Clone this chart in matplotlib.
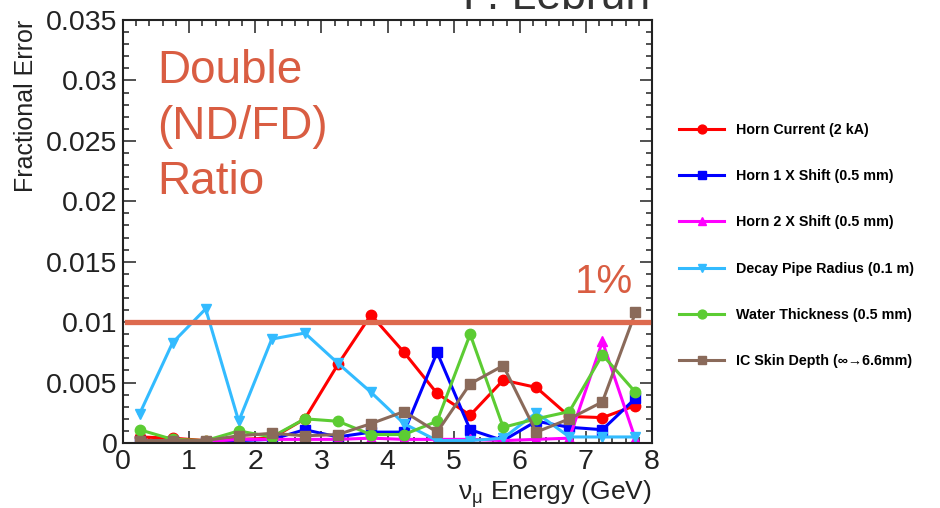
import numpy as np
import matplotlib
matplotlib.use("Agg")
import matplotlib.pyplot as plt
from matplotlib.ticker import MultipleLocator

plt.rcParams['font.family'] = ['Liberation Sans', 'DejaVu Sans']
plt.rcParams['mathtext.fontset'] = 'custom'
plt.rcParams['mathtext.rm'] = 'Liberation Sans'
plt.rcParams['mathtext.it'] = 'Liberation Sans'

# bin centres (GeV)
energy = [0.25, 0.75, 1.25, 1.75, 2.25, 2.75, 3.25, 3.75,
          4.25, 4.75, 5.25, 5.75, 6.25, 6.75, 7.25, 7.75]

horn_current = [0.0005, 0.0004, 0.0002, 0.0003, 0.0004, 0.0020, 0.0065, 0.0106,
                0.0075, 0.0041, 0.0023, 0.0052, 0.0046, 0.0022, 0.0021, 0.0031]
horn1_shift = [0.0002, 0.0002, 0.0001, 0.0002, 0.0003, 0.0011, 0.0005, 0.0009,
               0.0009, 0.0075, 0.0011, 0.0002, 0.0018, 0.0013, 0.0011, 0.0037]
horn2_shift = [0.0002, 0.0002, 0.0001, 0.0003, 0.0003, 0.0003, 0.0003, 0.0004,
               0.0003, 0.0003, 0.0003, 0.0002, 0.0003, 0.0004, 0.0084, 0.0003]
decay_pipe = [0.0024, 0.0083, 0.0111, 0.0018, 0.0086, 0.0091, 0.0066, 0.0042,
              0.0016, 0.0002, 0.0002, 0.0004, 0.0025, 0.0005, 0.0005, 0.0005]
water = [0.0011, 0.0003, 0.0002, 0.0010, 0.0005, 0.0020, 0.0018, 0.0007,
         0.0007, 0.0018, 0.0090, 0.0013, 0.0020, 0.0026, 0.0073, 0.0042]
ic_skin = [0.0002, 0.0002, 0.0002, 0.0006, 0.0008, 0.0006, 0.0007, 0.0016,
           0.0026, 0.0009, 0.0049, 0.0064, 0.0009, 0.0020, 0.0034, 0.0108]

series = [
    (horn_current, 'Horn Current (2 kA)', '#ff0000', 'o'),
    (horn1_shift, 'Horn 1 X Shift (0.5 mm)', '#0000ff', 's'),
    (horn2_shift, 'Horn 2 X Shift (0.5 mm)', '#ff00ff', '^'),
    (decay_pipe, 'Decay Pipe Radius (0.1 m)', '#33bbff', 'v'),
    (water, 'Water Thickness (0.5 mm)', '#5ccc33', 'o'),
    (ic_skin, 'IC Skin Depth (\u221e\u21926.6mm)', '#8a6a5a', 's'),
]

fig = plt.figure(figsize=(9.4, 5.08), dpi=100)
ax = fig.add_axes([123/940, 1 - 443/508, (652 - 123)/940, (443 - 20)/508])

handles = []
for vals, label, color, marker in series:
    h, = ax.plot(energy, vals, color=color, marker=marker, lw=2.2,
                 markersize=7.5, label=label)
    handles.append(h)

# 1% reference line
ax.plot([0.06, 7.94], [0.01, 0.01], color='#dd6a4e', lw=3.8, zorder=5)
ax.text(7.28, 0.0124, '1%', color='#d95d42', fontsize=29, ha='center',
        va='baseline')

# multi-line baseline alignment anchors on the last line ("Ratio")
ax.text(0.064, 0.589, 'Double\n(ND/FD)\nRatio', transform=ax.transAxes,
        color='#d95d42', fontsize=33, va='baseline', ha='left',
        linespacing=1.33)

ax.set_xlim(0, 8)
ax.set_ylim(0, 0.035)
ax.xaxis.set_major_locator(MultipleLocator(1))
ax.xaxis.set_minor_locator(MultipleLocator(0.2))
ax.yaxis.set_minor_locator(MultipleLocator(0.001))
ax.set_yticks([0, 0.005, 0.01, 0.015, 0.02, 0.025, 0.03, 0.035])
ax.set_yticklabels(['0', '0.005', '0.01', '0.015', '0.02', '0.025', '0.03', '0.035'])
ax.tick_params(which='both', direction='in', top=True, right=True,
               labelsize=20.5, width=1.1, colors='#222222')
ax.tick_params(which='major', length=9, pad=4)
ax.tick_params(which='minor', length=4.5)
for sp in ax.spines.values():
    sp.set_linewidth(1.5)
    sp.set_color('#222222')

ax.set_xlabel(r'$\mathrm{\nu_{\mu}}$ Energy (GeV)', fontsize=19, loc='right',
              labelpad=3, color='#222222')
ax.set_ylabel('Fractional Error', fontsize=18, loc='top', labelpad=6,
              color='#222222')

fig.legend(handles=handles, loc='center left',
           bbox_to_anchor=(679/940, 1 - 245.5/508), frameon=False,
           prop={'weight': 'bold', 'size': 10.3}, handlelength=3.15,
           handletextpad=0.8, labelspacing=2.25, borderpad=0,
           borderaxespad=0, markerscale=0.85)

fig.text(650/940, 1 - 9/508, 'P. Lebrun', fontsize=32, ha='right',
         va='baseline', color='#333333')

fig.savefig('out.png', dpi=100)
